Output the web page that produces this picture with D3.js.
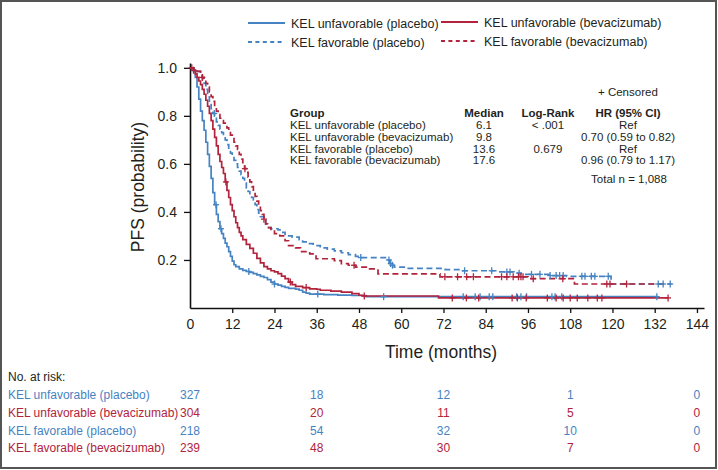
<!DOCTYPE html>
<html><head><meta charset="utf-8">
<script src="https://cdn.jsdelivr.net/npm/d3@7"></script>
<style>body{margin:0;background:#fff} text{font-family:"Liberation Sans",Arial,sans-serif;fill:#231f20}</style>
</head><body><svg id="c" width="718" height="470"></svg>
<script>
const groups = ["KEL unfavorable (placebo)", "KEL unfavorable (bevacizumab)", "KEL favorable (placebo)", "KEL favorable (bevacizumab)"];
const xTicks = [0,12,24,36,48,60,72,84,96,108,120,132,144];
const yTicks = [0.2,0.4,0.6,0.8,1.0];

// step curves: time (months), survival probability
const unfavPlaceboT = [0,1,1.5,2,2.5,3,3.5,4,4.5,5,5.5,6,6.5,7,7.5,8,8.5,9,9.5,10,10.5,11,11.5,12,12.5,13,14,15,16,17,18,19,20,21,22,23,24,25,26,27,28,30,31,32,33,34,38,42,46,50,133];
const unfavPlaceboS = [1,0.985,0.96,0.92,0.87,0.82,0.78,0.74,0.69,0.64,0.59,0.54,0.48,0.43,0.39,0.36,0.33,0.31,0.29,0.27,0.255,0.235,0.215,0.195,0.18,0.172,0.163,0.157,0.152,0.148,0.143,0.138,0.132,0.127,0.118,0.108,0.1,0.095,0.09,0.086,0.082,0.079,0.074,0.066,0.062,0.058,0.056,0.054,0.052,0.047,0.047];
const unfavBevT = [0,1,1.5,2,2.5,3,3.5,4,4.5,5,5.5,6,6.5,7,7.5,8,8.5,9,9.5,10,10.5,11,11.5,12,12.5,13,13.5,14,14.5,15,16,17,18,19,20,21,22,23,24,25,26,27,28,29,30,32,34,36,37,40,43,46,48,49,70.6,135.8];
const unfavBevS = [1,0.99,0.975,0.96,0.945,0.93,0.91,0.89,0.865,0.84,0.81,0.78,0.745,0.71,0.675,0.64,0.61,0.585,0.56,0.525,0.49,0.46,0.43,0.405,0.38,0.355,0.335,0.315,0.3,0.285,0.265,0.248,0.228,0.207,0.188,0.172,0.163,0.155,0.15,0.143,0.133,0.122,0.108,0.097,0.09,0.085,0.08,0.078,0.074,0.07,0.066,0.06,0.053,0.05,0.042,0.042];
const favPlaceboT = [0,1,2,3,3.5,4,4.5,5,5.5,6,6.5,7,7.5,8,8.5,9,9.5,10,10.5,11,11.5,12,12.5,13,13.5,14,14.5,15,15.5,16,16.5,17,17.5,18,18.5,19,19.5,20,21,21.5,22,23,25,26,27,29,31,32,33,35,37,39,41,43,45,47,48.5,56,56.7,57.3,58,62,72.5,77,88,92,94,102,107,119.6,136.8];
const favPlaceboS = [1,0.995,0.985,0.97,0.955,0.935,0.91,0.885,0.855,0.83,0.81,0.79,0.775,0.76,0.745,0.73,0.715,0.7,0.68,0.66,0.645,0.63,0.615,0.6,0.585,0.57,0.555,0.54,0.52,0.5,0.485,0.47,0.46,0.45,0.43,0.41,0.395,0.38,0.365,0.35,0.335,0.33,0.325,0.315,0.3,0.295,0.285,0.275,0.268,0.26,0.25,0.245,0.238,0.23,0.222,0.215,0.21,0.2,0.185,0.178,0.17,0.165,0.16,0.155,0.15,0.145,0.14,0.135,0.132,0.1,0.1];
const favBevT = [0,1,2,3,3.5,4,4.5,5,5.5,6,6.5,7,7.5,8,8.5,9,9.5,10,10.5,11,11.5,12,12.5,13,13.5,14,14.5,15,15.5,16,16.5,17,17.5,18,18.5,19,19.5,20,20.5,21,21.5,22,23,24,25.5,27,28,30,31.4,34,35.8,41,43,45,47,51,53.4,71,96,109.2,135.3];
const favBevS = [1,0.995,0.985,0.97,0.96,0.95,0.935,0.92,0.9,0.88,0.86,0.84,0.82,0.805,0.79,0.78,0.77,0.76,0.75,0.74,0.72,0.705,0.69,0.675,0.66,0.64,0.62,0.6,0.58,0.565,0.545,0.525,0.505,0.485,0.465,0.445,0.425,0.405,0.39,0.37,0.35,0.335,0.32,0.31,0.3,0.28,0.26,0.25,0.235,0.225,0.205,0.197,0.185,0.178,0.17,0.163,0.142,0.13,0.122,0.1,0.1];

// censor times
const unfavPlaceboC = [7.4,8.8,16.7,24,36.3,55,77.6,81,82.4,85,86,92.8,94,95.6,102.8,103.7,105.6,132.6];
const unfavBevC = [1,10.2,28.5,33,49.5,74.5,78.5,82,91.5,93,95.5,101.5,104,106,108,110,113,115.7,117,135.8];
const favPlaceboC = [6.9,48.5,56.5,57,57.5,78,85.7,90,90.9,93.5,97,99.4,102.3,104,105,106,111.3,112.2,114,115,118.8,133,134.4,136.4];
const favBevC = [0.5,3.5,15.6,21,46.6,72.4,76,78.6,80.5,88.5,90,91.8,93.3,94,94.6,97.5,105.9,118.4,119.3,124];

// table
const medians = ["6.1","9.8","13.6","17.6"];
const logRank = ["< .001","","0.679",""];
const hazard = ["Ref","0.70 (0.59 to 0.82)","Ref","0.96 (0.79 to 1.17)"];
const totalN = "Total n = 1,088";

// at risk
const riskTimes = [0,36,72,108,144];
const riskUnfavPlacebo = [327,18,12,1,0];
const riskUnfavBev = [304,20,11,5,0];
const riskFavPlacebo = [218,54,32,10,0];
const riskFavBev = [239,48,30,7,0];

const BLUE = "#4683c2", RED = "#b2233c";
const series = [
  {name:groups[0], t:unfavPlaceboT, s:unfavPlaceboS, c:unfavPlaceboC, color:BLUE, dash:null, risk:riskUnfavPlacebo},
  {name:groups[1], t:unfavBevT, s:unfavBevS, c:unfavBevC, color:RED, dash:null, risk:riskUnfavBev},
  {name:groups[2], t:favPlaceboT, s:favPlaceboS, c:favPlaceboC, color:BLUE, dash:"6,3.5", risk:riskFavPlacebo},
  {name:groups[3], t:favBevT, s:favBevS, c:favBevC, color:RED, dash:"6,3.5", risk:riskFavBev}
];

const svg = d3.select("#c");
svg.append("rect").attr("x",1).attr("y",1).attr("width",715).attr("height",467)
  .attr("fill","#fff").attr("stroke","#555").attr("stroke-width",2);

const x = d3.scaleLinear().domain([0,146]).range([190,704]);
const y = d3.scaleLinear().domain([0,1.02]).range([308,63]);

// axes
const xAxis = svg.append("g").attr("transform","translate(0,308)")
  .call(d3.axisBottom(x).tickValues(xTicks).tickSize(5).tickSizeOuter(0).tickPadding(6));
const yAxis = svg.append("g").attr("transform","translate(190,0)")
  .call(d3.axisLeft(y).tickValues(yTicks).tickFormat(d3.format(".1f")).tickSize(6).tickSizeOuter(0).tickPadding(7));
[xAxis,yAxis].forEach(g=>{
  g.select(".domain").attr("stroke","#111").attr("stroke-width",1.6);
  g.selectAll(".tick line").attr("stroke","#111").attr("stroke-width",1.3);
  g.selectAll(".tick text").attr("font-size",14).attr("fill","#231f20").style("font-family",'"Liberation Sans",Arial,sans-serif');
});
xAxis.selectAll(".tick").filter(d=>d===0).select("line").remove();

svg.append("text").attr("x",441).attr("y",358).attr("text-anchor","middle")
  .attr("font-size",17.5).text("Time (months)");
svg.append("text").attr("transform","translate(144,187) rotate(-90)").attr("text-anchor","middle")
  .attr("font-size",17.5).text("PFS (probability)");

// curves
const line = d3.line().x(d=>x(d[0])).y(d=>y(d[1])).curve(d3.curveStepAfter);
function survAt(se, t){
  const i = d3.bisectRight(se.t, t) - 1;
  return se.s[Math.max(0,i)];
}
series.forEach(se=>{
  const pts = se.t.map((t,i)=>[t,se.s[i]]);
  svg.append("path").attr("d",line(pts)).attr("fill","none")
    .attr("stroke",se.color).attr("stroke-width",1.7)
    .attr("stroke-dasharray",se.dash);
});
series.forEach(se=>{
  const g = svg.append("g").attr("stroke",se.color).attr("stroke-width",1.3);
  se.c.forEach(t=>{
    const cx = x(t), cy = y(survAt(se,t));
    g.append("line").attr("x1",cx-3).attr("x2",cx+3).attr("y1",cy).attr("y2",cy);
    g.append("line").attr("x1",cx).attr("x2",cx).attr("y1",cy-3.5).attr("y2",cy+3.5);
  });
});

// legend
const legPos = [[248,23],[441,22],[248,42],[441,41]];
series.forEach((se,i)=>{
  const [lx,ly] = legPos[i];
  svg.append("line").attr("x1",lx).attr("x2",lx+37).attr("y1",ly).attr("y2",ly)
    .attr("stroke",se.color).attr("stroke-width",2).attr("stroke-dasharray",se.dash?"4,3.4":null);
  svg.append("text").attr("x",lx+43).attr("y",ly+4.5).attr("font-size",12.5).text(se.name);
});

// table
const fs = 11.5;
svg.append("text").attr("x",598).attr("y",96).attr("font-size",fs).text("+ Censored");
const hy = 117;
svg.append("text").attr("x",290).attr("y",hy).attr("font-size",fs).attr("font-weight","bold").text("Group");
svg.append("text").attr("x",484).attr("y",hy).attr("font-size",fs).attr("font-weight","bold").attr("text-anchor","middle").text("Median");
svg.append("text").attr("x",548).attr("y",hy).attr("font-size",fs).attr("font-weight","bold").attr("text-anchor","middle").text("Log-Rank");
svg.append("text").attr("x",628).attr("y",hy).attr("font-size",fs).attr("font-weight","bold").attr("text-anchor","middle").text("HR (95% CI)");
groups.forEach((g,i)=>{
  const ry = 129 + i*11.8;
  svg.append("text").attr("x",290).attr("y",ry).attr("font-size",fs).text(g);
  svg.append("text").attr("x",484).attr("y",ry).attr("font-size",fs).attr("text-anchor","middle").text(medians[i]);
  svg.append("text").attr("x",548).attr("y",ry).attr("font-size",fs).attr("text-anchor","middle").text(logRank[i]);
  svg.append("text").attr("x",628).attr("y",ry).attr("font-size",fs).attr("text-anchor","middle").text(hazard[i]);
});
svg.append("text").attr("x",629).attr("y",183).attr("font-size",fs).attr("text-anchor","middle").text(totalN);

// at risk
svg.append("text").attr("x",8).attr("y",381).attr("font-size",12).text("No. at risk:");
series.forEach((se,i)=>{
  const ry = 399 + i*17.8;
  svg.append("text").attr("x",8).attr("y",ry).attr("font-size",12).style("fill",se.color).text(se.name);
  se.risk.forEach((v,j)=>{
    svg.append("text").attr("x",x(riskTimes[j])).attr("y",ry).attr("font-size",12)
      .attr("text-anchor","middle").style("fill",se.color).text(v);
  });
});
</script></body></html>
